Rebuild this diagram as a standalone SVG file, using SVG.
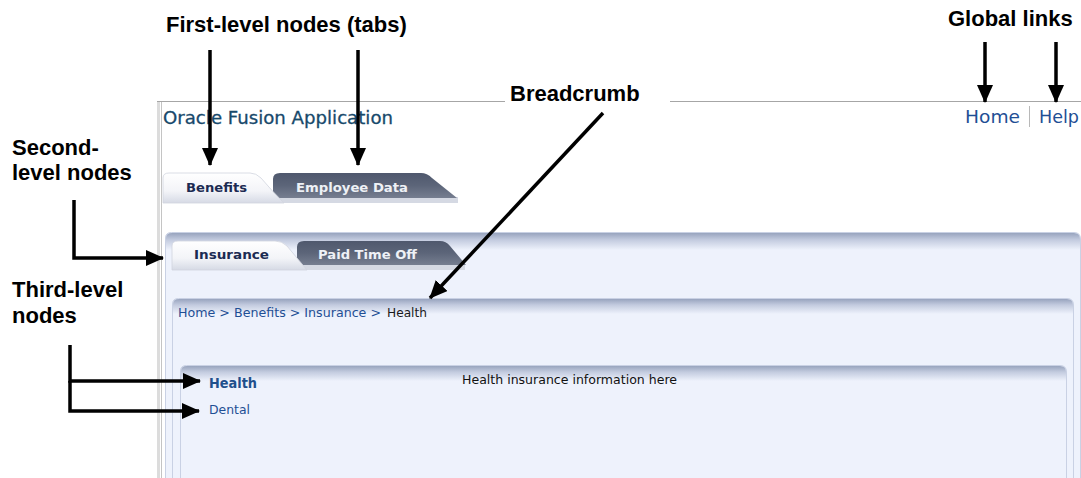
<svg xmlns="http://www.w3.org/2000/svg" width="1081" height="478" viewBox="0 0 1081 478">
  <style>
    .note { font-family: "Liberation Sans", Arial, sans-serif; font-size: 22px; font-weight: bold; fill: #000; }
    .ui { font-family: "DejaVu Sans", Verdana, sans-serif; }
    .tab-on { font-size: 13px; font-weight: bold; fill: #1c2b52; }
    .tab-off { font-size: 13px; font-weight: bold; fill: #eef1f6; }
    .link { fill: #1f4f95; }
    .conn { fill: none; stroke: #000; stroke-width: 3.5; stroke-linejoin: miter; marker-end: url(#arrow); }
    .hdr { fill: url(#hdrGrad); }
    .panel { fill: #eef2fc; stroke: #c9d1e4; stroke-width: 1; }
  </style>
  <defs>
    <marker id="arrow" markerUnits="userSpaceOnUse" markerWidth="18" markerHeight="16" refX="17" refY="8" orient="auto">
      <path d="M0,0 L18,8 L0,16 Z" fill="#000"/>
    </marker>
    <linearGradient id="hdrGrad" x1="0" y1="0" x2="0" y2="1">
      <stop offset="0" stop-color="#98a4be"/>
      <stop offset="0.4" stop-color="#c3cbdf"/>
      <stop offset="1" stop-color="#eef2fc"/>
    </linearGradient>
    <linearGradient id="lightTab" x1="0" y1="0" x2="0" y2="1">
      <stop offset="0" stop-color="#ffffff"/>
      <stop offset="0.6" stop-color="#f3f4f8"/>
      <stop offset="1" stop-color="#d6dae5"/>
    </linearGradient>
    <linearGradient id="darkTab" x1="0" y1="0" x2="0" y2="1">
      <stop offset="0" stop-color="#4f586d"/>
      <stop offset="0.5" stop-color="#5c6579"/>
      <stop offset="1" stop-color="#767e90"/>
    </linearGradient>
  </defs>

  <rect width="1081" height="478" fill="#ffffff"/>

  <!-- application frame -->
  <g id="frame">
    <rect x="157" y="102" width="3" height="376" fill="#dcdcdc"/>
    <line x1="161.5" y1="102" x2="161.5" y2="478" stroke="#c4c4c4" stroke-width="1"/>
    <line x1="157" y1="101.5" x2="505" y2="101.5" stroke="#a6a6a6" stroke-width="1.2"/>
    <line x1="670" y1="101.5" x2="1081" y2="101.5" stroke="#a6a6a6" stroke-width="1.2"/>
    <text class="ui" x="163" y="124" font-size="18" fill="#17496b" stroke="#17496b" stroke-width="0.3" textLength="230" lengthAdjust="spacingAndGlyphs">Oracle Fusion Application</text>
  </g>

  <g id="global-links">
    <text class="ui link" x="965" y="123" font-size="17" textLength="55" lengthAdjust="spacingAndGlyphs">Home</text>
    <line x1="1029.5" y1="106" x2="1029.5" y2="127" stroke="#b8b8b8" stroke-width="1"/>
    <text class="ui link" x="1039" y="123" font-size="17" textLength="40" lengthAdjust="spacingAndGlyphs">Help</text>
  </g>

  <!-- first-level tabs -->
  <g id="first-level-tabs">
    <rect x="163" y="197" width="295" height="6" fill="#d5d9e3"/>
    <path d="M273,198 L273,179 Q273,173 280,173 L421,173 Q427,173 432,178 L457,198 Z" fill="url(#darkTab)"/>
    <path d="M163,203 L163,178 Q163,173 169,173 L250,173 Q256,173 261,178 Q272,191 284,203 Z" fill="url(#lightTab)" stroke="#d0d4de" stroke-width="0.8"/>
    <text class="ui tab-on" x="186" y="192" textLength="61" lengthAdjust="spacingAndGlyphs">Benefits</text>
    <text class="ui tab-off" x="296" y="192" textLength="112" lengthAdjust="spacingAndGlyphs">Employee Data</text>
  </g>

  <!-- second-level panel -->
  <g id="second-level-panel">
    <path class="panel" d="M165.5,478 L165.5,238 Q165.5,232.5 171.5,232.5 L1074,232.5 Q1080.5,232.5 1080.5,239 L1080.5,478"/>
    <path class="hdr" d="M166,250 L166,238 Q166,233 172,233 L1074,233 Q1080,233 1080,239 L1080,250 Z"/>
    <rect x="172" y="264" width="293" height="6" fill="#d5d9e3"/>
    <path d="M297,265 L297,247 Q297,241 304,241 L440,241 Q446,241 450,246 L466,265 Z" fill="url(#darkTab)"/>
    <path d="M172,270 L172,246 Q172,241 178,241 L275,241 Q282,241 287,246 Q297,258 307,270 Z" fill="url(#lightTab)" stroke="#d0d4de" stroke-width="0.8"/>
    <text class="ui tab-on" x="194" y="259" textLength="75" lengthAdjust="spacingAndGlyphs">Insurance</text>
    <text class="ui tab-off" x="318" y="259" textLength="99" lengthAdjust="spacingAndGlyphs">Paid Time Off</text>
  </g>

  <!-- breadcrumb panel -->
  <g id="breadcrumb-panel">
    <path class="panel" d="M172.5,478 L172.5,304 Q172.5,298.5 178.5,298.5 L1067,298.5 Q1073.5,298.5 1073.5,305 L1073.5,478"/>
    <path class="hdr" d="M173,314 L173,304 Q173,299 179,299 L1067,299 Q1073,299 1073,305 L1073,314 Z"/>
    <text class="ui link" x="178" y="317" font-size="13" textLength="203" lengthAdjust="spacingAndGlyphs">Home &gt; Benefits &gt; Insurance &gt;</text>
    <text class="ui" x="387" y="317" font-size="13" fill="#1a1a1a" textLength="40" lengthAdjust="spacingAndGlyphs">Health</text>
  </g>

  <!-- third-level panel -->
  <g id="third-level-panel">
    <path class="panel" d="M180.5,478 L180.5,371 Q180.5,365.5 186.5,365.5 L1060,365.5 Q1066.5,365.5 1066.5,372 L1066.5,478"/>
    <path class="hdr" d="M181,381 L181,371 Q181,366 187,366 L1060,366 Q1066,366 1066,372 L1066,381 Z"/>
    <text class="ui" x="209" y="388" font-size="14" font-weight="bold" fill="#1f4f8c" textLength="48" lengthAdjust="spacingAndGlyphs">Health</text>
    <text class="ui link" x="209" y="414" font-size="13" textLength="41" lengthAdjust="spacingAndGlyphs">Dental</text>
    <text class="ui" x="462" y="384" font-size="13" fill="#111" textLength="215" lengthAdjust="spacingAndGlyphs">Health insurance information here</text>
  </g>

  <!-- annotation labels -->
  <g id="label-first-level">
    <text class="note" x="166" y="32">First-level nodes (tabs)</text>
  </g>
  <g id="label-global-links">
    <text class="note" x="948" y="26">Global links</text>
  </g>
  <g id="label-breadcrumb">
    <rect x="506" y="84" width="162" height="22" fill="#ffffff"/>
    <text class="note" x="510" y="101">Breadcrumb</text>
  </g>
  <g id="label-second-level">
    <text class="note" x="12" y="155">Second-</text>
    <text class="note" x="12" y="180">level nodes</text>
  </g>
  <g id="label-third-level">
    <text class="note" x="12" y="297">Third-level</text>
    <text class="note" x="12" y="323">nodes</text>
  </g>

  <!-- connectors -->
  <g id="connectors">
    <line class="conn" x1="210" y1="50" x2="210" y2="165"/>
    <line class="conn" x1="358" y1="50" x2="358" y2="165"/>
    <line class="conn" x1="985" y1="42" x2="985" y2="102"/>
    <line class="conn" x1="1056" y1="42" x2="1056" y2="102"/>
    <line class="conn" x1="603" y1="113" x2="430" y2="298"/>
    <polyline class="conn" points="74,200 74,258 163,258"/>
    <polyline class="conn" points="70,345 70,381 200,381"/>
    <polyline class="conn" points="70,381 70,411 199,411"/>
  </g>
</svg>
